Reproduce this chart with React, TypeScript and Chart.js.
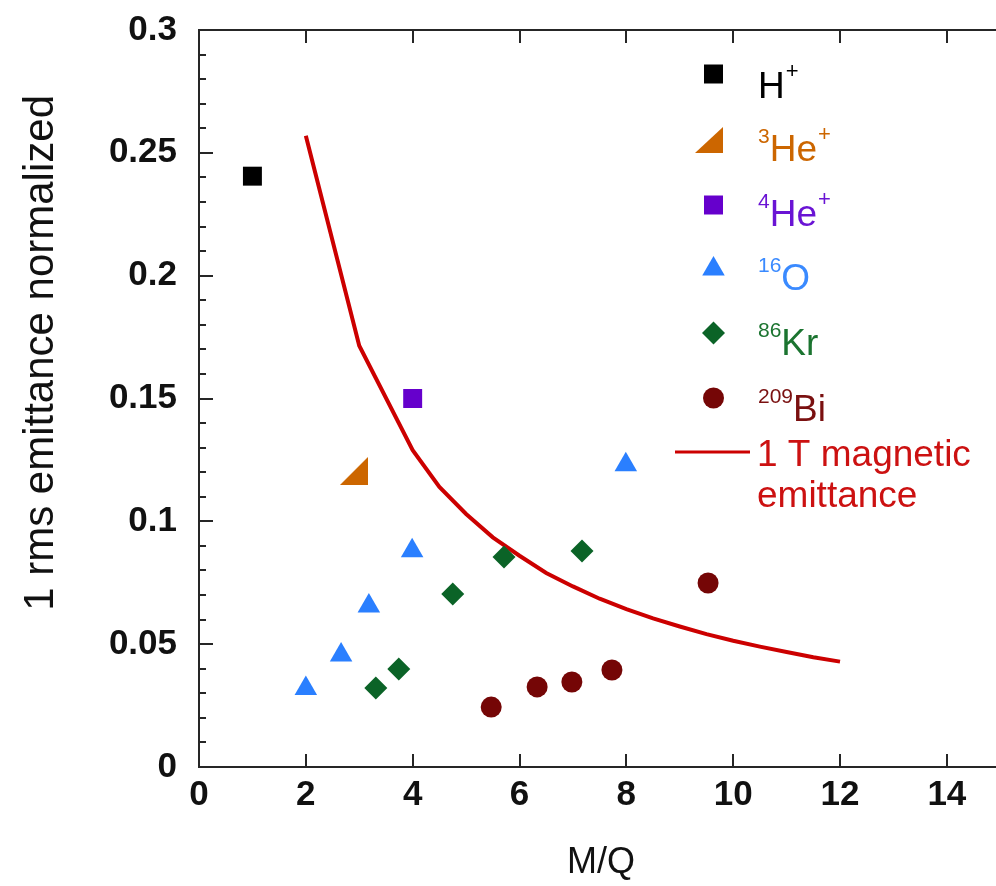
import React, { useEffect, useRef } from "react";
import { Chart, registerables } from "chart.js";
Chart.register(...registerables);

// ---- data ----
const xTicks = [0, 2, 4, 6, 8, 10, 12, 14];
const yTicks = [0, 0.05, 0.1, 0.15, 0.2, 0.25, 0.3];
const yMinorStep = 0.01;

const hX = [1];
const hY = [0.2405];
const he3X = [2.9];
const he3Y = [0.1205];
const he4X = [4];
const he4Y = [0.15];
const oX = [2.0, 2.66, 3.18, 3.99, 7.99];
const oY = [0.032, 0.0456, 0.0655, 0.088, 0.123];
const krX = [3.31, 3.74, 4.75, 5.71, 7.17];
const krY = [0.0322, 0.0399, 0.0704, 0.0855, 0.0879];
const biX = [5.47, 6.33, 6.98, 7.73, 9.53];
const biY = [0.0244, 0.0326, 0.0346, 0.0395, 0.0749];
const magX = [2, 3, 4, 4.5, 5, 5.5, 6, 6.5, 7, 7.5, 8, 8.5, 9, 9.5, 10, 10.5, 11, 11.5, 12];
const magY = [0.257, 0.1715, 0.129, 0.114, 0.103, 0.0935, 0.086, 0.079, 0.0735, 0.0685, 0.0643, 0.0605, 0.0572, 0.0541, 0.0514, 0.049, 0.0468, 0.0447, 0.0429];

const xLabel = "M/Q";
const yLabel = "1 rms emittance normalized";

const legendItems = [
  { sup: "", main: "H", post: "+", color: "#000000", marker: "square", mColor: "#000000" },
  { sup: "3", main: "He", post: "+", color: "#cc6600", marker: "rtri", mColor: "#cc6600" },
  { sup: "4", main: "He", post: "+", color: "#6a14d4", marker: "square", mColor: "#6600cc" },
  { sup: "16", main: "O", post: "", color: "#3a8aff", marker: "tri", mColor: "#2a7fff" },
  { sup: "86", main: "Kr", post: "", color: "#1b7430", marker: "diamond", mColor: "#0b6327" },
  { sup: "209", main: "Bi", post: "", color: "#7a1010", marker: "circle", mColor: "#750606" },
];
const lineLegend = ["1 T magnetic", "emittance"];

const FONT = "'Liberation Sans', Arial, Helvetica, sans-serif";

const pts = (xs: number[], ys: number[]) => xs.map((x, i) => ({ x, y: ys[i] }));

function makeRightTri(color: string, size: number) {
  const c = document.createElement("canvas");
  c.width = size;
  c.height = size;
  const g = c.getContext("2d")!;
  g.fillStyle = color;
  g.beginPath();
  g.moveTo(0, size);
  g.lineTo(size, size);
  g.lineTo(size, 0);
  g.closePath();
  g.fill();
  return c;
}

function drawMarker(ctx: CanvasRenderingContext2D, kind: string, cx: number, cy: number, color: string) {
  ctx.fillStyle = color;
  ctx.beginPath();
  if (kind === "square") {
    ctx.rect(cx - 9.5, cy - 9.5, 19, 19);
  } else if (kind === "rtri") {
    ctx.moveTo(cx - 14, cy + 13);
    ctx.lineTo(cx + 14, cy + 13);
    ctx.lineTo(cx + 14, cy - 13);
    ctx.closePath();
  } else if (kind === "tri") {
    const r = 13;
    ctx.moveTo(cx, cy - r);
    ctx.lineTo(cx + r * 0.866, cy + r / 2);
    ctx.lineTo(cx - r * 0.866, cy + r / 2);
    ctx.closePath();
  } else if (kind === "diamond") {
    const r = 11.5;
    ctx.moveTo(cx, cy - r);
    ctx.lineTo(cx + r, cy);
    ctx.lineTo(cx, cy + r);
    ctx.lineTo(cx - r, cy);
    ctx.closePath();
  } else if (kind === "circle") {
    ctx.arc(cx, cy, 10.5, 0, Math.PI * 2);
  }
  ctx.fill();
}

const decorPlugin = {
  id: "decor",
  afterDraw(chart: any) {
    const { ctx, chartArea, scales } = chart;
    const { left, top, bottom } = chartArea;
    const right = chart.width;
    const x = scales.x;
    const y = scales.y;
    ctx.save();
    ctx.strokeStyle = "#262626";
    ctx.lineWidth = 2;
    ctx.beginPath();
    ctx.moveTo(right, top);
    ctx.lineTo(left, top);
    ctx.lineTo(left, bottom);
    ctx.lineTo(right, bottom);
    ctx.stroke();

    // y ticks (inward)
    const nMinor = Math.round((yTicks[yTicks.length - 1] - yTicks[0]) / yMinorStep);
    ctx.beginPath();
    for (let i = 1; i < nMinor; i++) {
      const v = yTicks[0] + i * yMinorStep;
      const py = Math.round(y.getPixelForValue(v));
      const len = i % 5 === 0 ? 14 : 7;
      ctx.moveTo(left, py);
      ctx.lineTo(left + len, py);
    }
    // x ticks bottom and top
    xTicks.forEach((v) => {
      if (v === xTicks[0]) return;
      const px = Math.round(x.getPixelForValue(v));
      ctx.moveTo(px, bottom);
      ctx.lineTo(px, bottom - 13);
      ctx.moveTo(px, top);
      ctx.lineTo(px, top + 13);
    });
    ctx.stroke();

    // axis titles
    ctx.fillStyle = "#111";
    ctx.font = `36px ${FONT}`;
    ctx.textAlign = "center";
    ctx.textBaseline = "alphabetic";
    ctx.fillText(xLabel, 601, 873);

    ctx.save();
    ctx.translate(53, 95);
    ctx.rotate(-Math.PI / 2);
    ctx.textAlign = "right";
    ctx.font = `42px ${FONT}`;
    ctx.fillText(yLabel, 0, 0);
    ctx.restore();

    // legend
    const markerY = [74, 140, 205, 269, 333, 398];
    const baseY = [98, 161, 226, 290, 355, 421];
    legendItems.forEach((it, i) => {
      const mx = it.marker === "rtri" ? 709 : 713.5;
      drawMarker(ctx, it.marker, mx, markerY[i], it.mColor);
      let tx = 758;
      ctx.textAlign = "left";
      ctx.fillStyle = it.color;
      if (it.sup) {
        ctx.font = `21px ${FONT}`;
        ctx.fillText(it.sup, tx, baseY[i] - 18);
        tx += ctx.measureText(it.sup).width;
      }
      ctx.font = `37px ${FONT}`;
      ctx.fillText(it.main, tx, baseY[i]);
      tx += ctx.measureText(it.main).width;
      if (it.post) {
        ctx.font = `22px ${FONT}`;
        ctx.fillText(it.post, tx + 1, baseY[i] - 20);
      }
    });
    ctx.strokeStyle = "#cc0000";
    ctx.lineWidth = 3;
    ctx.beginPath();
    ctx.moveTo(675, 452);
    ctx.lineTo(750, 452);
    ctx.stroke();
    ctx.fillStyle = "#cc1111";
    ctx.font = `37px ${FONT}`;
    ctx.fillText(lineLegend[0], 757, 466);
    ctx.fillText(lineLegend[1], 757, 507);
    ctx.restore();
  },
};

export default function App() {
  const ref = useRef<HTMLCanvasElement | null>(null);
  useEffect(() => {
    if (!ref.current) return;
    const he3Marker = makeRightTri("#cc6600", 28);
    const chart = new Chart(ref.current, {
      type: "scatter",
      data: {
        datasets: [
          { label: "H+", data: pts(hX, hY), pointStyle: "rect", pointRadius: 13.4, backgroundColor: "#000000", borderWidth: 0 },
          { label: "3He+", data: pts(he3X, he3Y), pointStyle: he3Marker as any, pointRadius: 14, backgroundColor: "#cc6600", borderWidth: 0 },
          { label: "4He+", data: pts(he4X, he4Y), pointStyle: "rect", pointRadius: 13.4, backgroundColor: "#6600cc", borderWidth: 0 },
          { label: "16O", data: pts(oX, oY), pointStyle: "triangle", pointRadius: 13, backgroundColor: "#2a7fff", borderWidth: 0 },
          { label: "86Kr", data: pts(krX, krY), pointStyle: "rectRot", pointRadius: 11.5, backgroundColor: "#0b6327", borderWidth: 0 },
          { label: "209Bi", data: pts(biX, biY), pointStyle: "circle", pointRadius: 10.5, backgroundColor: "#750606", borderWidth: 0 },
          {
            label: "1 T magnetic emittance",
            data: pts(magX, magY),
            showLine: true,
            pointRadius: 0,
            borderColor: "#cc0000",
            borderWidth: 4,
            tension: 0,
          } as any,
        ],
      },
      options: {
        responsive: false,
        animation: false,
        layout: { autoPadding: false, padding: { left: 0, top: 30, right: 0, bottom: 0 } },
        plugins: { legend: { display: false }, tooltip: { enabled: false }, title: { display: false } },
        scales: {
          x: {
            type: "linear",
            bounds: "data",
            min: 0,
            max: 14.92,
            grid: { display: false, drawTicks: false },
            border: { display: false },
            afterBuildTicks: (s: any) => {
              s.ticks = xTicks.map((v) => ({ value: v }));
            },
            afterFit: (s: any) => {
              s.height = 119;
              s.paddingLeft = 0;
              s.paddingRight = 0;
              s.paddingTop = 0;
              s.paddingBottom = 0;
            },
            ticks: {
              autoSkip: false,
              maxRotation: 0,
              padding: 7,
              color: "#111",
              font: { family: FONT, size: 35, weight: "bold" },
              callback: (v: any) => String(v),
            },
          },
          y: {
            type: "linear",
            bounds: "data",
            min: 0,
            max: 0.3,
            grid: { display: false, drawTicks: false },
            border: { display: false },
            afterBuildTicks: (s: any) => {
              s.ticks = yTicks.map((v) => ({ value: v }));
            },
            afterFit: (s: any) => {
              s.width = 199;
              s.paddingLeft = 0;
              s.paddingRight = 0;
              s.paddingTop = 0;
              s.paddingBottom = 0;
            },
            ticks: {
              autoSkip: false,
              padding: 22,
              color: "#111",
              font: { family: FONT, size: 35, weight: "bold" },
              callback: (v: any) => String(Math.round(Number(v) * 100) / 100),
            },
          },
        },
      },
      plugins: [decorPlugin],
    });
    return () => chart.destroy();
  }, []);
  return (
    <div style={{ position: "fixed", left: 0, top: 0, width: 996, height: 886, background: "#fff" }}>
      <canvas ref={ref} width={996} height={886} style={{ display: "block" }} />
    </div>
  );
}
